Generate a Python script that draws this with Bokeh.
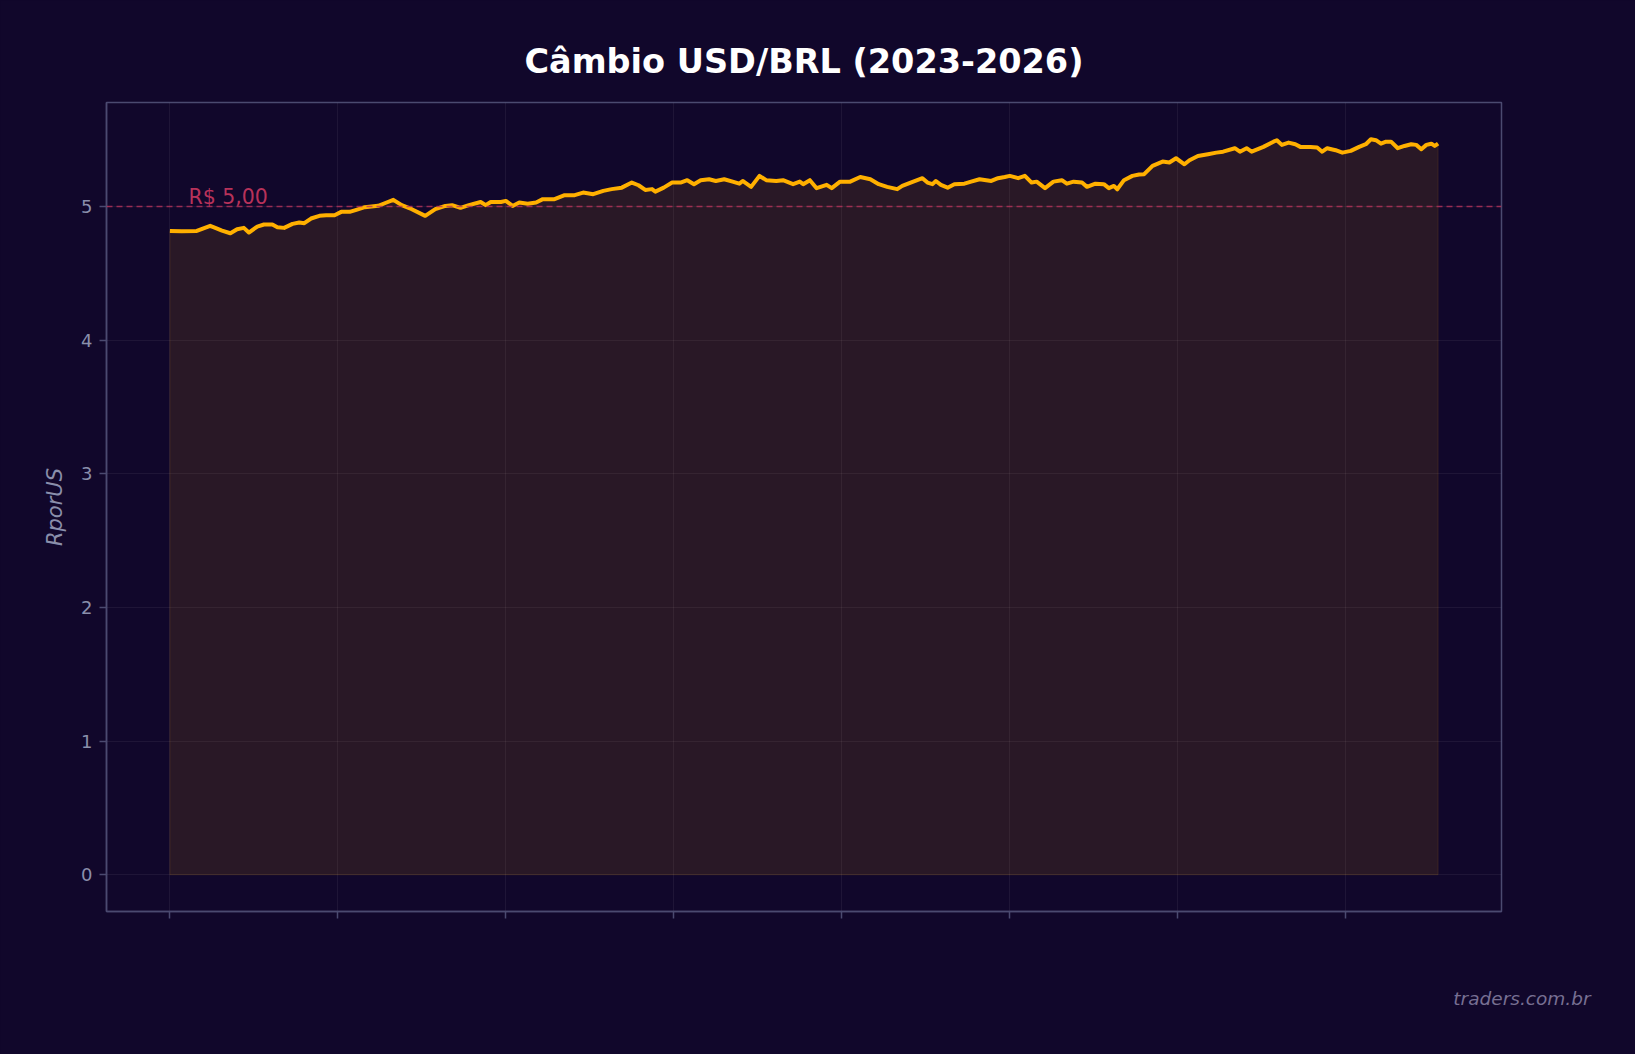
from bokeh.plotting import figure
from bokeh.models import Span, Label, Range1d, FixedTicker, CustomJSTickFormatter, Title
from bokeh.embed import file_html
from bokeh.resources import INLINE

# ---- data ----
dia = [0, 7, 16, 24, 27, 31, 36, 40, 44, 47, 52, 56, 61, 64, 68, 73, 77, 80, 84, 89,
       93, 98, 102, 107, 111, 116, 120, 124, 129, 133, 138, 144, 152, 158, 164, 168, 173, 178, 185, 188,
       191, 197, 200, 204, 208, 213, 218, 222, 229, 235, 241, 246, 252, 258, 263, 269, 275, 279, 283, 287,
       289, 294, 299, 304, 308, 312, 316, 321, 325, 330, 335, 339, 341, 346, 351, 355, 361, 365, 371, 375,
       377, 381, 385, 391, 394, 399, 405, 411, 417, 422, 427, 433, 436, 441, 448, 451, 454, 456, 459, 463,
       467, 473, 477, 482, 489, 493, 497, 500, 505, 509, 513, 516, 521, 526, 531, 534, 538, 543, 546, 551,
       556, 559, 562, 564, 568, 573, 577, 580, 585, 591, 595, 599, 604, 607, 612, 618, 623, 627, 634, 637,
       641, 644, 651, 657, 659, 662, 666, 670, 673, 679, 683, 686, 689, 694, 698, 703, 708, 712, 715, 718,
       721, 724, 727, 731, 735, 739, 742, 745, 748, 751, 753, 755]
cambio = [4.817, 4.815, 4.817, 4.855, 4.840, 4.820, 4.800, 4.830, 4.840, 4.805, 4.850, 4.865, 4.865, 4.845, 4.840, 4.870, 4.880, 4.875, 4.910, 4.930,
          4.935, 4.935, 4.960, 4.960, 4.975, 4.995, 5.000, 5.005, 5.030, 5.050, 5.010, 4.980, 4.930, 4.980, 5.004, 5.010, 4.990, 5.010, 5.034, 5.010,
          5.034, 5.034, 5.042, 5.004, 5.030, 5.020, 5.030, 5.055, 5.055, 5.085, 5.085, 5.104, 5.092, 5.117, 5.130, 5.141, 5.179, 5.159, 5.124, 5.130,
          5.111, 5.141, 5.179, 5.179, 5.197, 5.167, 5.197, 5.204, 5.191, 5.204, 5.186, 5.171, 5.191, 5.147, 5.229, 5.197, 5.191, 5.197, 5.167, 5.186,
          5.167, 5.197, 5.137, 5.162, 5.137, 5.186, 5.186, 5.221, 5.204, 5.167, 5.147, 5.130, 5.154, 5.179, 5.212, 5.179, 5.167, 5.191, 5.162, 5.141,
          5.167, 5.171, 5.186, 5.204, 5.191, 5.212, 5.221, 5.229, 5.212, 5.229, 5.179, 5.186, 5.137, 5.186, 5.197, 5.171, 5.186, 5.179, 5.147, 5.171,
          5.167, 5.137, 5.154, 5.129, 5.197, 5.229, 5.240, 5.242, 5.304, 5.336, 5.329, 5.361, 5.316, 5.346, 5.378, 5.391, 5.403, 5.410, 5.436, 5.410,
          5.436, 5.410, 5.446, 5.485, 5.496, 5.461, 5.478, 5.466, 5.446, 5.446, 5.441, 5.410, 5.436, 5.421, 5.403, 5.416, 5.446, 5.466, 5.503, 5.496,
          5.470, 5.485, 5.485, 5.436, 5.453, 5.466, 5.461, 5.429, 5.461, 5.470, 5.453, 5.470]
x_ticks = [0, 100, 200, 300, 400, 500, 600, 700]
y_ticks = [0, 1, 2, 3, 4, 5]
nivel_ref = 5.0
titulo = "Câmbio USD/BRL (2023-2026)"
rotulo_y = "RporUS"
rotulo_ref = "R$ 5,00"
marca = "traders.com.br"

BG = "#11072b"
SPINE = "#4b4a70"
TXT = "#8a8fab"
ORANGE = "#ffb000"
RED = "#b8325a"

n_last = dia[-1]
pad_x = n_last * 0.05
ymax = max(cambio)
pad_y = ymax * 0.05

p = figure(width=1635, height=1054, output_backend="svg", toolbar_location=None,
           x_range=Range1d(-pad_x, n_last + pad_x), y_range=Range1d(-pad_y, ymax + pad_y),
           min_border_left=106, min_border_right=134, min_border_top=102, min_border_bottom=143)

p.background_fill_color = BG
p.border_fill_color = BG
p.outline_line_color = SPINE
p.outline_line_width = 1.5

p.title.text = titulo
p.title.text_color = "#ffffff"
p.title.text_font = "DejaVu Sans"
p.title.text_font_size = "33.5px"
p.title.text_font_style = "bold"
p.title.align = "center"
p.title.standoff = 44

# fill + line
xs = [dia[0]] + dia + [dia[-1]]
ys = [0] + cambio + [0]
p.patch(xs, ys, fill_color=ORANGE, fill_alpha=0.1, line_color=ORANGE, line_alpha=0.12, line_width=1)
p.line(dia, cambio, line_color=ORANGE, line_width=4, line_join="round")

p.add_layout(Span(location=nivel_ref, dimension="width", line_color=RED, line_alpha=0.8,
                  line_width=1.5, line_dash="6 4"))
p.add_layout(Label(x=11, y=nivel_ref - 0.018, text=rotulo_ref, text_color=RED, text_font="DejaVu Sans",
                   text_font_size="20.5px", text_baseline="bottom", text_align="left"))

# spacer panel between the x axis and the watermark, so the watermark panel reaches the page bottom
spacer = Title(text=" ", text_font_size="10px", standoff=10, text_color=BG)
p.add_layout(spacer, "below")
wm = Title(text=marca, align="right", offset=-89, text_color="#776f92", text_font="DejaVu Sans",
           text_font_size="18.5px", text_font_style="italic", standoff=88, vertical_align="bottom")
p.add_layout(wm, "below")

# axes
p.xaxis.ticker = FixedTicker(ticks=x_ticks)
p.xaxis.formatter = CustomJSTickFormatter(code="return '';")
p.yaxis.ticker = FixedTicker(ticks=y_ticks)
for ax in (p.xaxis[0], p.yaxis[0]):
    ax.axis_line_color = SPINE
    ax.axis_line_width = 1.5
    ax.major_tick_line_color = SPINE
    ax.major_tick_line_width = 1.5
    ax.major_tick_out = 7
    ax.major_tick_in = 0
    ax.minor_tick_line_color = None
    ax.major_label_text_color = TXT
    ax.major_label_text_font = "DejaVu Sans"
    ax.major_label_text_font_size = "18px"
p.yaxis.major_label_standoff = 7
p.yaxis.axis_label = rotulo_y
p.yaxis.axis_label_text_color = TXT
p.yaxis.axis_label_text_font = "DejaVu Sans"
p.yaxis.axis_label_text_font_size = "21px"
p.yaxis.axis_label_text_font_style = "italic"
p.yaxis.axis_label_standoff = 11

p.xgrid.grid_line_color = "#ffffff"
p.xgrid.grid_line_alpha = 0.06
p.ygrid.grid_line_color = "#ffffff"
p.ygrid.grid_line_alpha = 0.06

html = file_html(p, INLINE)
html = html.replace("</head>", "<style>html,body{background-color:#11072b;}</style></head>", 1)
open("out.html", "w").write(html)
